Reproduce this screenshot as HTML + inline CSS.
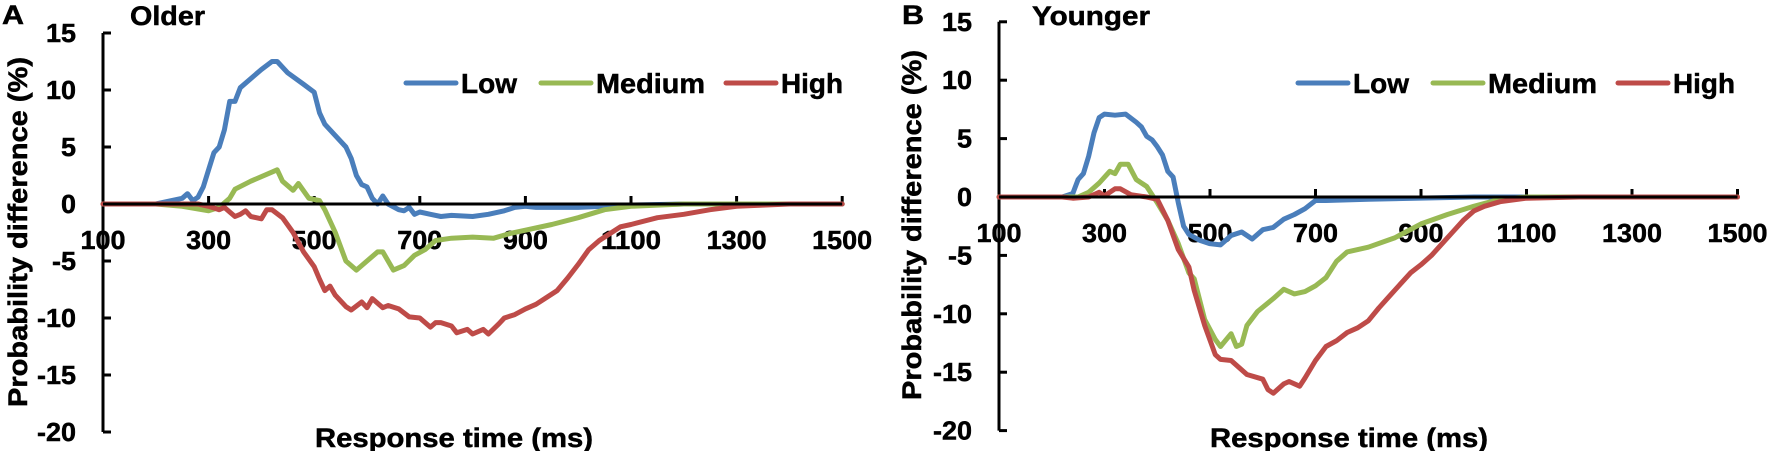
<!DOCTYPE html>
<html><head><meta charset="utf-8"><style>
html,body{margin:0;padding:0;background:#fff;}
svg{display:block;font-family:"Liberation Sans",Arial,sans-serif;font-weight:bold;}
text{stroke:#000;stroke-width:0.5;}
</style></head><body>
<svg id="s" width="1772" height="451" viewBox="0 0 1772 451" xmlns="http://www.w3.org/2000/svg"></svg>
<script>
var S=document.getElementById('s');var out='';
function tl(s,perChar){return ' textLength="'+(s.length*perChar)+'" lengthAdjust="spacingAndGlyphs"';}
function panel(o){
 var ax=o.ax, y0=o.y0, py=o.py, px=o.px;
 function X(t){return ax+(t-100)*px;}
 function Y(v){return y0-v*py;}
 out+='<line x1="'+ax+'" y1="'+Y(15)+'" x2="'+ax+'" y2="'+Y(-20)+'" stroke="#000" stroke-width="3"/>';
 for(var v=15;v>=-20;v-=5){
  var s=String(v);
  var w=(s.replace('-','').length*15)+(v<0?9:0);
  out+='<line x1="'+ax+'" y1="'+Y(v)+'" x2="'+(ax+8)+'" y2="'+Y(v)+'" stroke="#000" stroke-width="3"/>';
  out+='<text x="'+(ax-27)+'" y="'+(Y(v)+9)+'" font-size="26" text-anchor="end" textLength="'+w+'" lengthAdjust="spacingAndGlyphs">'+s+'</text>';
 }
 for(var t=100;t<=1500;t+=200){
  var s=String(t);
  out+='<line x1="'+X(t)+'" y1="'+y0+'" x2="'+X(t)+'" y2="'+(y0-8)+'" stroke="#000" stroke-width="3"/>';
  out+='<text x="'+X(t)+'" y="'+(y0+45)+'" font-size="26" text-anchor="middle"'+tl(s,15)+'>'+s+'</text>';
 }
 var cols=['#4a7ebb','#98b954','#be4b48'];
 [o.low,o.med,o.high].forEach(function(d,i){
  var p='';
  var pts=[[100,0]].concat(d).concat([[1500,0]]);
  pts.forEach(function(q,j){p+=(j?'L':'M')+X(q[0]).toFixed(1)+','+Y(q[1]).toFixed(1);});
  out+='<path d="'+p+'" fill="none" stroke="'+cols[i]+'" stroke-width="5" stroke-linejoin="round" stroke-linecap="round"/>';
 });
 out+='<line x1="'+ax+'" y1="'+y0+'" x2="'+X(1500)+'" y2="'+y0+'" stroke="#000" stroke-width="3"/>';
 var L=o.leg, names=['Low','Medium','High'], ws=[56,109,62];
 names.forEach(function(n,i){
  var lx=L[i];
  out+='<line x1="'+lx+'" y1="83" x2="'+(lx+50)+'" y2="83" stroke="'+cols[i]+'" stroke-width="5" stroke-linecap="round"/>';
  out+='<text x="'+(lx+55)+'" y="93" font-size="28" textLength="'+ws[i]+'" lengthAdjust="spacingAndGlyphs">'+n+'</text>';
 });
 out+='<text x="'+o.lx+'" y="24" font-size="27" textLength="22" lengthAdjust="spacingAndGlyphs">'+o.letter+'</text>';
 out+='<text x="'+o.tx+'" y="25" font-size="27" textLength="'+o.tw+'" lengthAdjust="spacingAndGlyphs">'+o.title+'</text>';
 out+='<text x="'+o.rx+'" y="447" font-size="27" textLength="278" lengthAdjust="spacingAndGlyphs">Response time (ms)</text>';
 out+='<text transform="translate('+o.ylx+','+o.yly+') rotate(-90)" font-size="27" text-anchor="middle" textLength="350" lengthAdjust="spacingAndGlyphs">Probability difference (%)</text>';
}
panel({ax:103,y0:204,py:11.4,px:105.6/200,leg:[406,541,726],letter:'A',lx:2,title:'Older',tx:130,tw:75,rx:315,ylx:27,yly:232,
low:[[200,0],[230,0.3],[250,0.5],[260,0.9],[270,0.3],[280,0.6],[290,1.5],[300,3],[310,4.5],[320,5],[330,6.5],[340,9],[350,9],[360,10.2],[380,11],[400,11.8],[420,12.5],[430,12.5],[450,11.5],[480,10.5],[500,9.8],[510,8],[520,7],[540,6],[560,5],[570,4],[580,2.5],[590,1.7],[600,1.5],[610,0.5],[620,0],[630,0.7],[640,0],[660,-0.5],[670,-0.6],[680,-0.3],[690,-0.9],[700,-0.7],[720,-0.9],[740,-1.1],[760,-1],[800,-1.1],[830,-0.9],[860,-0.6],[880,-0.3],[900,-0.2],[920,-0.3],[1000,-0.3],[1100,-0.1],[1200,0]],
med:[[200,0],[250,-0.2],[300,-0.6],[320,-0.3],[340,0.5],[350,1.3],[380,2],[420,2.8],[430,3],[440,2],[460,1.2],[470,1.8],[490,0.5],[510,0.3],[520,-0.5],[540,-2.5],[560,-5],[580,-5.8],[600,-5],[620,-4.2],[630,-4.2],[650,-5.8],[670,-5.4],[690,-4.5],[710,-4],[730,-3.2],[760,-3],[800,-2.9],[840,-3],[870,-2.6],[900,-2.3],[950,-1.8],[1000,-1.2],[1050,-0.5],[1100,-0.2],[1200,0]],
high:[[280,0],[300,-0.2],[320,-0.5],[330,-0.3],[340,-0.7],[350,-1.1],[360,-0.9],[370,-0.6],[380,-1.1],[400,-1.3],[410,-0.5],[420,-0.5],[440,-1.2],[460,-2.5],[480,-4.2],[500,-5.5],[510,-6.6],[520,-7.6],[530,-7.2],[540,-8],[560,-9],[570,-9.3],[590,-8.6],[600,-9.1],[610,-8.3],[630,-9.1],[640,-8.9],[660,-9.2],[680,-9.9],[700,-10],[720,-10.8],[730,-10.4],[740,-10.4],[760,-10.7],[770,-11.3],[790,-11],[800,-11.4],[820,-11],[830,-11.4],[850,-10.5],[860,-10],[880,-9.7],[900,-9.2],[920,-8.8],[940,-8.2],[960,-7.6],[980,-6.5],[1000,-5.3],[1020,-4],[1040,-3.2],[1060,-2.6],[1080,-2],[1100,-1.8],[1150,-1.2],[1200,-0.9],[1250,-0.5],[1300,-0.2],[1350,-0.1],[1400,0]]});
panel({ax:999,y0:197,py:11.68,px:105.5/200,leg:[1298,1433,1618],letter:'B',lx:902,title:'Younger',tx:1032,tw:118,rx:1210,ylx:921,yly:225,
low:[[220,0],[240,0.3],[250,1.5],[260,2],[270,3.5],[280,5.5],[290,6.8],[300,7.1],[320,7],[340,7.1],[360,6.4],[370,6],[380,5.2],[390,4.9],[400,4.3],[410,3.6],[420,2.2],[430,1.7],[440,-0.5],[450,-2.5],[460,-3.2],[480,-3.7],[500,-4],[520,-4.1],[530,-3.7],[540,-3.3],[560,-3],[580,-3.6],[600,-2.8],[620,-2.6],[640,-1.9],[660,-1.5],[680,-1],[700,-0.3],[720,-0.3],[800,-0.2],[1000,0]],
med:[[250,0],[270,0.4],[290,1.2],[310,2.2],[320,2],[330,2.8],[345,2.8],[360,1.5],[380,0.9],[400,-0.5],[420,-2],[440,-4],[460,-6.5],[470,-7],[490,-10.5],[510,-12.2],[520,-12.8],[540,-11.7],[550,-12.8],[560,-12.6],[570,-11],[590,-9.8],[620,-8.7],[640,-7.9],[660,-8.3],[680,-8.1],[700,-7.6],[720,-6.9],[740,-5.5],[760,-4.7],[800,-4.3],[850,-3.5],[900,-2.3],[950,-1.5],[1000,-0.8],[1050,-0.2],[1100,0]],
high:[[220,0],[240,-0.1],[270,0],[290,0.4],[300,0.1],[320,0.7],[330,0.7],[350,0.2],[380,0],[400,-0.2],[420,-2],[440,-4.5],[460,-6],[470,-8],[490,-11],[510,-13.5],[520,-13.9],[540,-14],[570,-15.2],[600,-15.6],[610,-16.5],[620,-16.8],[640,-16],[650,-15.8],[670,-16.2],[680,-15.5],[700,-14],[720,-12.8],[740,-12.3],[760,-11.6],[780,-11.2],[800,-10.6],[820,-9.5],[840,-8.5],[860,-7.5],[880,-6.5],[900,-5.8],[920,-5],[940,-4],[960,-3],[980,-2],[1000,-1.2],[1020,-0.8],[1050,-0.4],[1100,-0.1],[1200,0]]});
S.innerHTML=out;
</script>
</body></html>
